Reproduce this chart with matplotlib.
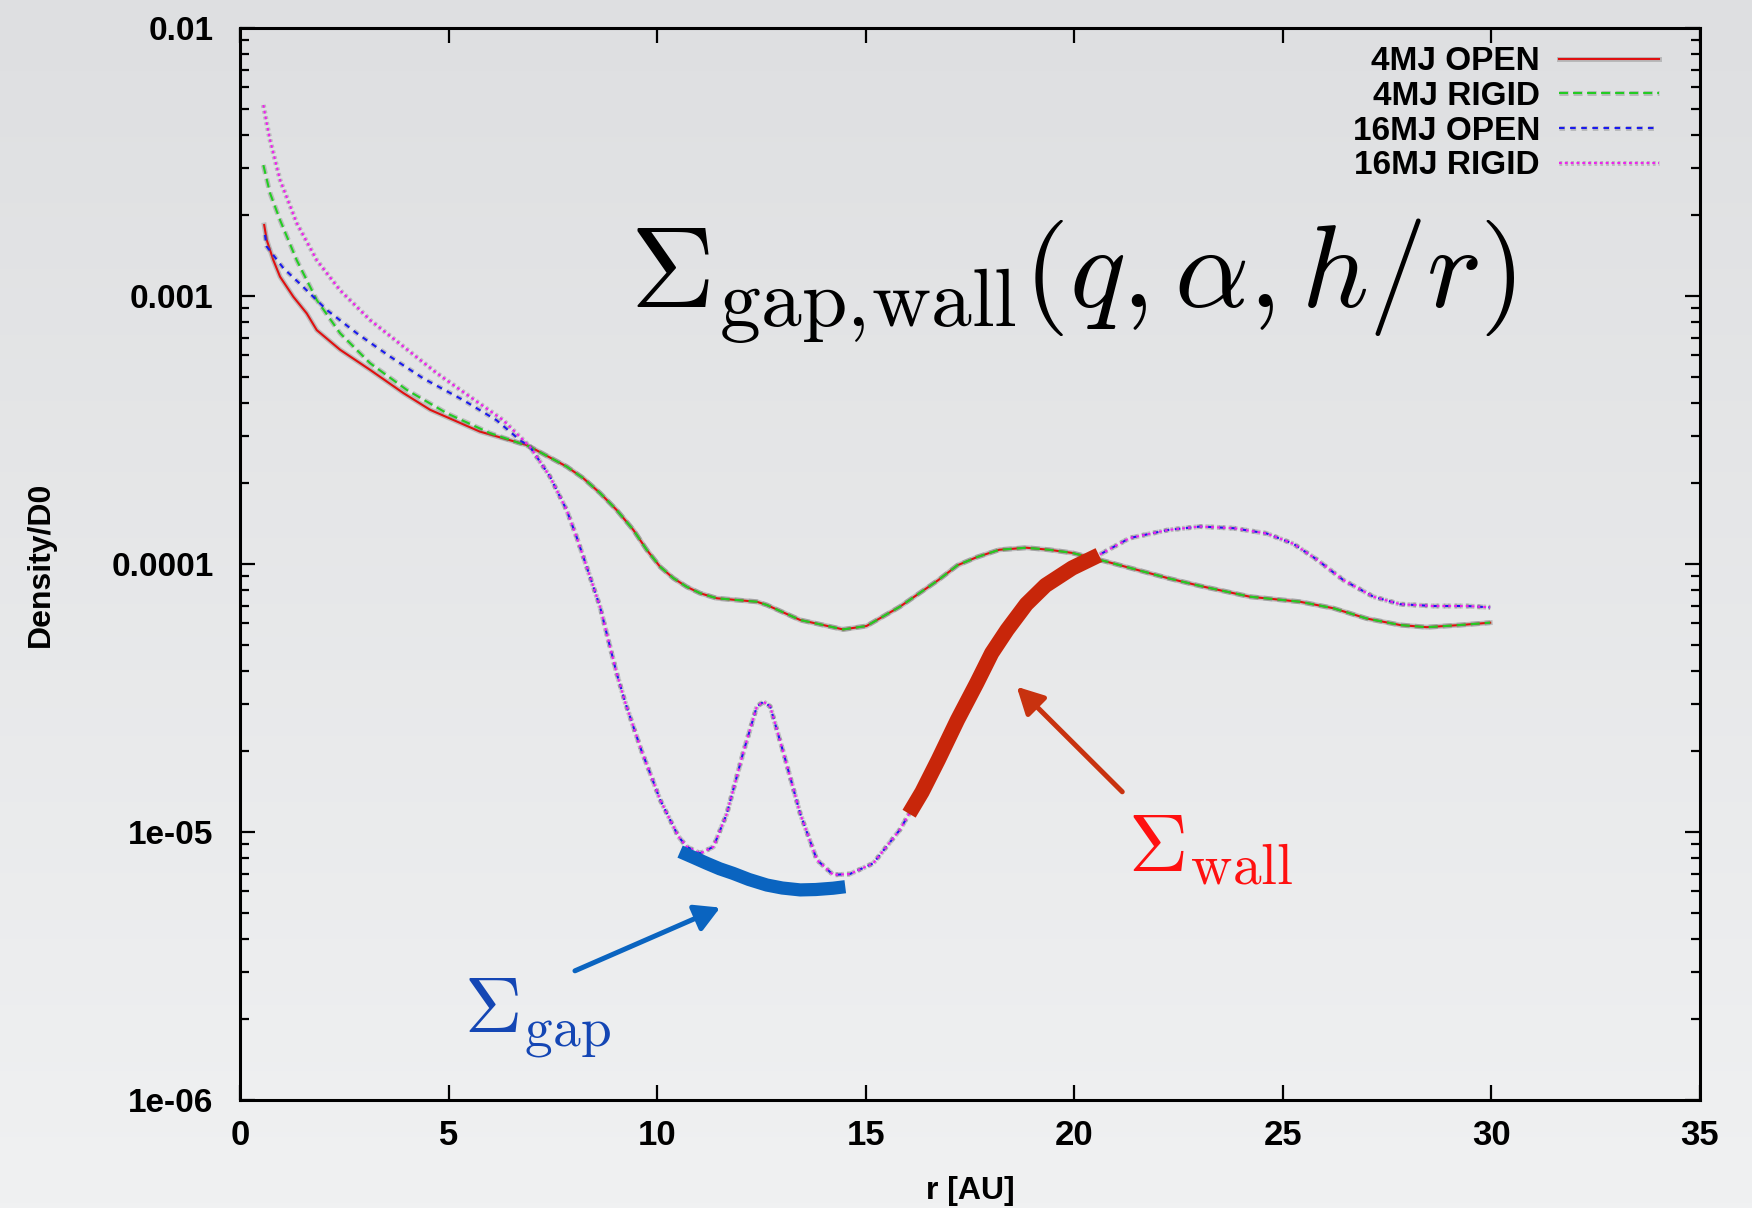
import numpy as np
import matplotlib
matplotlib.use("Agg")
import matplotlib.pyplot as plt
from matplotlib import patheffects as pe
from matplotlib.ticker import LogLocator, NullFormatter

# ---------------- data ----------------
# inner parts (r < ~7 AU) differ between the four runs
r_4mj_open_in = [0.58, 0.64, 0.80, 0.96, 1.28, 1.60, 1.84, 2.40, 3.12, 3.92, 4.56, 5.75, 6.87]
d_4mj_open_in = [1.84e-3, 1.62e-3, 1.36e-3, 1.18e-3, 9.93e-4, 8.61e-4, 7.46e-4, 6.30e-4,
                 5.30e-4, 4.34e-4, 3.76e-4, 3.12e-4, 2.78e-4]

r_4mj_rigid_in = [0.56, 0.72, 0.96, 1.36, 1.84, 2.40, 3.12, 4.00, 4.96, 5.99]
d_4mj_rigid_in = [3.08e-3, 2.42e-3, 1.92e-3, 1.36e-3, 9.66e-4, 7.26e-4, 5.61e-4, 4.46e-4,
                  3.65e-4, 3.08e-4]

r_16mj_open_in = [0.60, 0.64, 1.04, 1.44, 2.08, 2.80, 3.60, 4.39, 5.35, 6.15, 6.71]
d_16mj_open_in = [1.69e-3, 1.53e-3, 1.27e-3, 1.11e-3, 8.87e-4, 7.26e-4, 5.94e-4, 4.93e-4,
                  4.09e-4, 3.44e-4, 2.90e-4]

r_16mj_rigid_in = [0.56, 0.64, 0.72, 0.96, 1.36, 1.84, 2.40, 3.12, 3.92, 4.72, 5.51, 6.31]
d_16mj_rigid_in = [5.16e-3, 4.41e-3, 3.82e-3, 2.71e-3, 1.87e-3, 1.36e-3, 1.05e-3, 8.13e-4,
                   6.47e-4, 5.15e-4, 4.21e-4, 3.44e-4]

# outer parts: OPEN and RIGID coincide for the same planet mass
r_4mj_out = [6.95, 7.83, 8.23, 8.63, 9.03, 9.43, 9.75, 10.07, 10.39, 10.71, 11.03, 11.43,
             12.39, 12.63, 13.43, 14.46, 15.02, 15.82, 16.74, 17.20, 17.66, 18.20, 18.85,
             19.40, 19.95, 20.78, 22.25, 23.02, 24.21, 25.41, 26.21, 27.01, 27.81, 28.45,
             29.25, 29.97]
d_4mj_out = [2.74e-4, 2.31e-4, 2.09e-4, 1.84e-4, 1.59e-4, 1.34e-4, 1.13e-4, 9.77e-5, 8.85e-5,
             8.22e-5, 7.78e-5, 7.45e-5, 7.23e-5, 7.03e-5, 6.18e-5, 5.70e-5, 5.87e-5, 6.93e-5,
             8.71e-5, 9.89e-5, 1.06e-4, 1.13e-4, 1.15e-4, 1.13e-4, 1.10e-4, 1.02e-4, 8.85e-5,
             8.28e-5, 7.55e-5, 7.23e-5, 6.84e-5, 6.26e-5, 5.92e-5, 5.81e-5, 5.92e-5, 6.04e-5]

r_16mj_out = [6.95, 7.43, 7.83, 8.07, 8.31, 8.63, 8.83, 9.03, 9.23, 9.43, 9.63, 9.83, 10.07,
              10.31, 10.51, 10.71, 11.03, 11.35, 11.67, 12.06, 12.39, 12.55, 12.71, 13.03,
              13.43, 13.83, 14.22, 14.62, 15.18, 15.82, 16.04, 16.35, 16.74, 17.20, 17.66,
              18.02, 18.39, 18.85, 19.31, 19.95, 20.59, 21.33, 22.25, 23.02, 23.82, 24.61,
              25.25, 25.81, 26.45, 27.17, 27.81, 28.61, 29.41, 29.97]
d_16mj_out = [2.74e-4, 2.12e-4, 1.59e-4, 1.26e-4, 9.77e-5, 6.93e-5, 5.20e-5, 3.91e-5, 3.06e-5,
              2.47e-5, 2.00e-5, 1.66e-5, 1.32e-5, 1.11e-5, 9.62e-6, 8.81e-6, 8.32e-6, 8.81e-6,
              1.17e-5, 1.97e-5, 2.94e-5, 3.06e-5, 2.94e-5, 1.97e-5, 1.17e-5, 7.87e-6, 6.92e-6,
              6.97e-6, 7.64e-6, 1.02e-5, 1.17e-5, 1.41e-5, 1.86e-5, 2.62e-5, 3.59e-5, 4.65e-5,
              5.68e-5, 7.08e-5, 8.32e-5, 9.66e-5, 1.08e-4, 1.25e-4, 1.34e-4, 1.38e-4, 1.36e-4,
              1.30e-4, 1.19e-4, 1.04e-4, 8.71e-5, 7.55e-5, 7.08e-5, 6.97e-5, 6.97e-5, 6.89e-5]

# annotation: fitted gap floor and wall range
gap_r = [10.55, 10.90, 11.19, 11.50, 11.82, 12.20, 12.63, 13.00, 13.43, 13.80, 14.22, 14.51]
gap_d = [8.45e-6, 8.00e-6, 7.64e-6, 7.29e-6, 7.01e-6, 6.65e-6, 6.34e-6, 6.18e-6, 6.08e-6,
         6.10e-6, 6.17e-6, 6.25e-6]
wall_range = [16.0, 20.6]

labels = ["4MJ OPEN", "4MJ RIGID", "16MJ OPEN", "16MJ RIGID"]
x_ticks = [0, 5, 10, 15, 20, 25, 30, 35]
y_ticks = [1e-6, 1e-5, 1e-4, 1e-3, 1e-2]
y_tick_labels = ["1e-06", "1e-05", "0.0001", "0.001", "0.01"]

# ---------------- figure ----------------
plt.rcParams["mathtext.fontset"] = "cm"
plt.rcParams["lines.scale_dashes"] = False
plt.rcParams["font.family"] = ["Liberation Sans", "DejaVu Sans"]

W, H = 1752, 1208
fig = plt.figure(figsize=(W / 100, H / 100), dpi=100)

# gradient background
bg = fig.add_axes([0, 0, 1, 1], zorder=-10)
top = np.array([222, 223, 225]) / 255.0
bot = np.array([240, 241, 242]) / 255.0
t = np.linspace(0, 1, 256)[:, None]
grad = (top[None, :] * (1 - t) + bot[None, :] * t)[:, None, :]
bg.imshow(grad, aspect="auto", extent=[0, 1, 0, 1], origin="upper")
bg.set_axis_off()
fig.patch.set_facecolor(bot)

ax = fig.add_axes([240 / W, 1 - 1100 / H, 1460 / W, 1072 / H])
ax.patch.set_alpha(0)

halo = [pe.Stroke(linewidth=3.6, foreground=(0.45, 0.45, 0.45), alpha=0.35), pe.Normal()]

series = [
    (r_4mj_open_in + r_4mj_out, d_4mj_open_in + d_4mj_out, "#e01010", "-", None),
    (r_4mj_rigid_in + r_4mj_out, d_4mj_rigid_in + d_4mj_out, "#22cc22", "--", (6.5, 3.6)),
    (r_16mj_open_in + r_16mj_out, d_16mj_open_in + d_16mj_out, "#1a1aee", "--", (4.0, 4.0)),
    (r_16mj_rigid_in + r_16mj_out, d_16mj_rigid_in + d_16mj_out, "#ee22ee", ":", (2.0, 2.2)),
]
for (rr, dd, col, ls, dash), lab in zip(series, labels):
    kw = dict(color=col, lw=1.5, label=lab, path_effects=halo)
    if dash is None:
        line, = ax.plot(rr, dd, ls, **kw)
    else:
        line, = ax.plot(rr, dd, **kw)
        line.set_dashes(dash)

# wall highlight along the 16MJ profile
r16 = np.array(r_16mj_out)
d16 = np.array(d_16mj_out)
m = (r16 >= wall_range[0]) & (r16 <= wall_range[1])
ax.plot(r16[m], d16[m], color="#c8260a", lw=11, solid_capstyle="butt",
        solid_joinstyle="round", zorder=5)
# gap floor
ax.plot(gap_r, gap_d, color="#0a64c0", lw=9.5, solid_capstyle="butt",
        solid_joinstyle="round", zorder=5)

ax.set_yscale("log")
ax.set_xlim(0, 35)
ax.set_ylim(1e-6, 1e-2)
ax.set_xticks(x_ticks)
ax.set_xticklabels([str(v) for v in x_ticks])
ax.set_yticks(y_ticks)
ax.set_yticklabels(y_tick_labels)
ax.yaxis.set_minor_locator(LogLocator(base=10, subs=np.arange(2, 10)))
ax.yaxis.set_minor_formatter(NullFormatter())

ax.tick_params(which="both", direction="in", top=True, right=True, width=1.6, colors="black")
ax.tick_params(which="major", length=11)
ax.tick_params(which="minor", length=6.5)
ax.tick_params(axis="x", which="major", pad=14, labelsize=25)
ax.tick_params(axis="y", which="major", pad=19, labelsize=24)
for lbl in ax.get_xticklabels() + ax.get_yticklabels():
    lbl.set_fontweight("bold")
for s in ax.spines.values():
    s.set_linewidth(2.2)

ax.set_xlabel("r [AU]", fontsize=23, fontweight="bold", labelpad=17)
ax.set_ylabel("Density/D0", fontsize=23, fontweight="bold", labelpad=40)

leg = ax.legend(loc="upper right", bbox_to_anchor=(0.972, 0.983), frameon=False,
                markerfirst=False, handlelength=3.0, handletextpad=0.57,
                labelspacing=0.11, borderpad=0, borderaxespad=0,
                prop={"weight": "bold", "size": 24})

# annotations
ax.text(9.36, 9.0e-4, r"$\Sigma_{\mathrm{gap,\!wall}}(q,\alpha,h/r)$", fontsize=84,
        ha="left", va="baseline", color="black")
ax.text(5.38, 10 ** -5.749, r"$\Sigma_{\mathrm{gap}}$", fontsize=57, color="#1446b4",
        ha="left", va="baseline")
ax.text(21.29, 10 ** -5.147, r"$\Sigma_{\mathrm{wall}}$", fontsize=59, color="#ff1010",
        ha="left", va="baseline")

ax.annotate("", xy=(11.51, 10 ** -5.282), xytext=(8.03, 10 ** -5.518),
            arrowprops=dict(arrowstyle="-|>,head_length=0.75,head_width=0.42",
                            mutation_scale=20, lw=3.6, color="#0a64c0",
                            shrinkA=0, shrinkB=0))
ax.annotate("", xy=(18.62, 10 ** -4.458), xytext=(21.15, 10 ** -4.850),
            arrowprops=dict(arrowstyle="-|>,head_length=0.8,head_width=0.42",
                            mutation_scale=20, lw=3.6, color="#c8320f",
                            shrinkA=0, shrinkB=0))

fig.savefig("out.png", dpi=100, facecolor=fig.get_facecolor())
